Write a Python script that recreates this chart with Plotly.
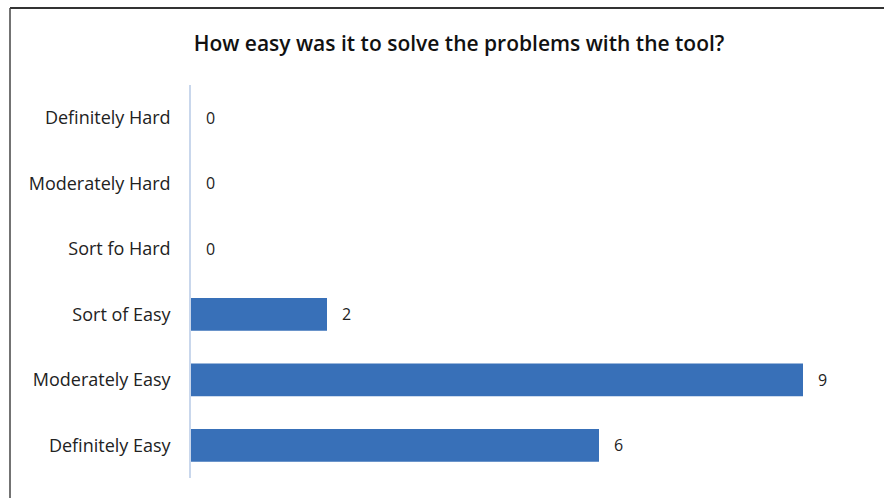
import plotly.graph_objects as go

categories = ["Definitely Easy", "Moderately Easy", "Sort of Easy",
              "Sort fo Hard", "Moderately Hard", "Definitely Hard"]
values = [6, 9, 2, 0, 0, 0]
title_text = "How easy was it to solve the problems with the tool?"

W, H = 884, 498
L, R, T, B = 191, 13, 85, 20
pw, ph = W - L - R, H - T - B
FONT = "Open Sans, Lato, sans-serif"

fig = go.Figure()
fig.add_trace(go.Bar(
    y=categories, x=values, orientation="h",
    marker=dict(color="#3870B8", line=dict(width=0)),
    width=0.5, hoverinfo="skip",
))

for c, v in zip(categories, values):
    fig.add_annotation(x=v, y=c, text=str(v), showarrow=False,
                       xanchor="left", xshift=13,
                       font=dict(family=FONT, size=16, color="#222"))

# frame (top and left edges)
def px_x(p):
    return (p - L) / pw
def px_y(p):
    return 1 - (p - T) / ph

fig.add_shape(type="line", xref="paper", yref="paper",
              x0=px_x(10), x1=px_x(W + 5), y0=px_y(8), y1=px_y(8),
              line=dict(color="#333", width=2))
fig.add_shape(type="line", xref="paper", yref="paper",
              x0=px_x(10), x1=px_x(10), y0=px_y(8), y1=px_y(H + 5),
              line=dict(color="#444", width=1.5))

fig.update_layout(
    width=W, height=H,
    margin=dict(l=L, r=R, t=T, b=B),
    paper_bgcolor="white", plot_bgcolor="white",
    showlegend=False,
    title=dict(text=title_text, x=459 / W, xanchor="center",
               y=1 - 44 / H, yanchor="middle",
               font=dict(family=FONT, size=21, color="#111", weight=600)),
    xaxis=dict(range=[0, 10], showgrid=False, zeroline=False, showticklabels=False,
               showline=False, fixedrange=True),
    yaxis=dict(categoryorder="array", categoryarray=categories,
               showgrid=False, zeroline=False, showline=True,
               linecolor="#C9D7EC", linewidth=1.5, ticks="",
               ticklabelstandoff=15,
               tickfont=dict(family=FONT, size=18, color="#222")),
    bargap=0.5,
)

fig.write_html("out.html", config={"displayModeBar": False},
               post_script="document.body.style.margin='0';document.body.style.overflow='hidden';")
